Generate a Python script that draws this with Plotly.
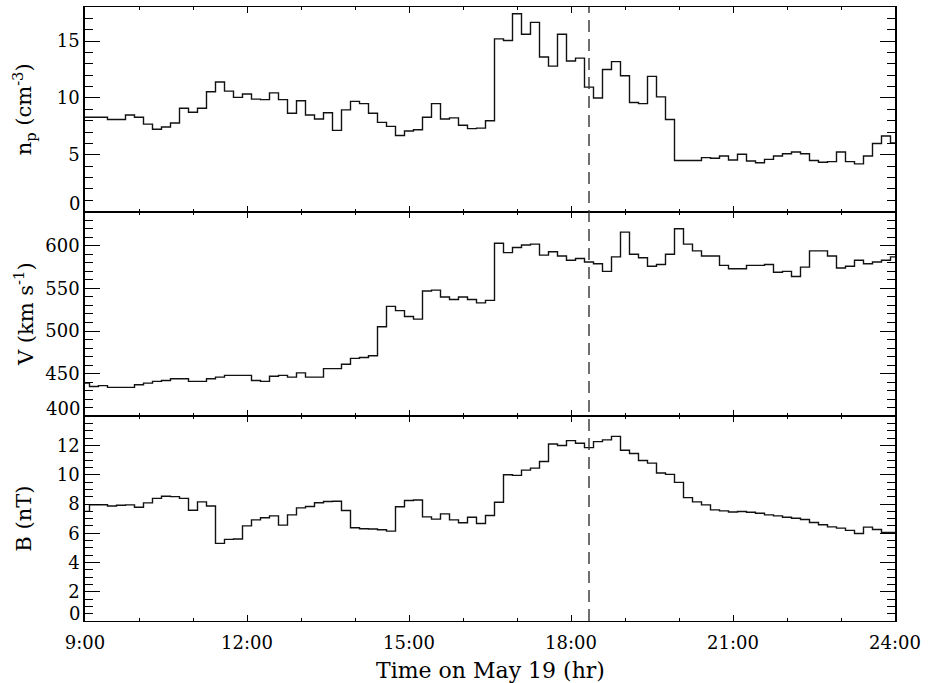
import plotly.graph_objects as go
from plotly.subplots import make_subplots

# 10-minute samples from 9:00 to 24:00 on May 19 (hours)
time_hours = [9 + i * 10 / 60 for i in range(91)]

np_density = [8.3, 8.3, 8.3, 8.1, 8.1, 8.5, 8.3, 7.7, 7.25, 7.45, 7.8, 9.1, 8.75, 9.1, 10.55,
              11.4, 10.6, 10.05, 10.35, 9.9, 9.85, 10.45, 9.85, 8.65, 9.75, 8.5, 8.15, 8.7, 7.15,
              8.95, 9.7, 9.5, 8.65, 7.85, 7.5, 6.7, 7.1, 7.2, 8.3, 9.5, 8.15, 8.25, 7.6, 7.3, 7.35,
              8.0, 15.2, 15.05, 17.4, 15.6, 16.65, 13.6, 12.8, 15.6, 13.25, 13.5, 10.95, 10.0, 12.5,
              13.2, 11.95, 9.6, 9.5, 11.9, 10.1, 8.1, 4.5, 4.5, 4.5, 4.75, 4.7, 4.9, 4.55, 5.05, 4.45,
              4.3, 4.6, 4.9, 5.1, 5.25, 5.1, 4.5, 4.35, 4.4, 5.25, 4.4, 4.2, 4.9, 6.0, 6.65, 6.05]

velocity = [439, 435, 436, 434, 434, 434, 437, 439, 441, 442, 444, 444, 441, 441, 444, 446,
            448, 448, 448, 442, 441, 447, 448, 446, 451, 446, 446, 456, 456, 461, 468, 469, 471,
            505, 529, 524, 517, 514, 547, 548, 540, 537, 540, 537, 533, 536, 603, 592, 598, 601,
            602, 589, 593, 588, 583, 585, 581, 579, 570, 587, 616, 590, 586, 576, 578, 590, 620,
            602, 594, 588, 588, 577, 573, 573, 577, 577, 578, 569, 570, 564, 575, 594, 594, 588,
            574, 576, 583, 579, 581, 583, 587]

b_field = [7.5, 7.95, 7.95, 7.87, 7.92, 7.94, 7.78, 8.08, 8.39, 8.53, 8.51, 8.39, 7.58, 8.15,
           7.87, 5.31, 5.58, 5.61, 6.51, 6.92, 7.06, 7.19, 6.56, 7.26, 7.74, 7.83, 8.09, 8.17,
           8.19, 7.56, 6.38, 6.31, 6.29, 6.24, 6.15, 7.81, 8.24, 8.28, 7.12, 6.97, 7.33, 6.92,
           6.72, 7.1, 6.67, 7.22, 8.12, 10.0, 9.96, 10.32, 10.46, 10.91, 12.11, 12.0, 12.34,
           12.16, 11.86, 12.27, 12.39, 12.63, 11.68, 11.46, 10.98, 10.8, 10.12, 10.03, 9.48,
           8.44, 8.15, 7.94, 7.6, 7.53, 7.46, 7.49, 7.44, 7.37, 7.26, 7.19, 7.1, 7.03, 6.94,
           6.74, 6.58, 6.44, 6.35, 6.2, 5.99, 6.42, 6.26, 6.06, 6.06]

x_tickvals = [9, 12, 15, 18, 21, 24]
x_ticktext = ["9:00", "12:00", "15:00", "18:00", "21:00", "24:00"]
event_time = 18 + 20 / 60

np_ticks = [0, 5, 10, 15]
v_ticks = [400, 450, 500, 550, 600]
b_ticks = [0, 2, 4, 6, 8, 10, 12]

FONT = "DejaVu Serif"

fig = make_subplots(rows=3, cols=1, shared_xaxes=True, vertical_spacing=0)
line_style = dict(shape="hvh", color="#111", width=1.4)
fig.add_trace(go.Scatter(x=time_hours, y=np_density, mode="lines", line=line_style), row=1, col=1)
fig.add_trace(go.Scatter(x=time_hours, y=velocity, mode="lines", line=line_style), row=2, col=1)
fig.add_trace(go.Scatter(x=time_hours, y=b_field, mode="lines", line=line_style), row=3, col=1)

xcommon = dict(range=[9, 24], tickvals=x_tickvals, ticktext=x_ticktext, showline=True,
               linecolor="black", linewidth=1.2, mirror="ticks", ticks="inside", ticklen=6,
               tickwidth=1.2, tickcolor="black", showgrid=False, zeroline=False,
               minor=dict(dtick=1, ticks="inside", ticklen=3, tickwidth=1.2, tickcolor="black"),
               tickfont=dict(family=FONT, size=18, color="black"), ticklabelstandoff=5)
for r in (1, 2, 3):
    fig.update_xaxes(**xcommon, row=r, col=1)
fig.update_xaxes(showticklabels=False, row=1, col=1)
fig.update_xaxes(showticklabels=False, row=2, col=1)

ycommon = dict(showline=True, linecolor="black", linewidth=1.5, mirror="ticks", ticks="inside",
               ticklen=15, tickwidth=1.2, tickcolor="black", showgrid=False, zeroline=False,
               tickfont=dict(family=FONT, size=18, color="black"))
fig.update_yaxes(**ycommon, range=[0, 18], tickvals=np_ticks,
                 ticktext=[""] + [str(v) for v in np_ticks[1:]],
                 minor=dict(dtick=1, ticks="inside", ticklen=8, tickwidth=1.2, tickcolor="black"),
                 row=1, col=1)
fig.update_yaxes(**ycommon, range=[400, 640], tickvals=v_ticks,
                 ticktext=[""] + [str(v) for v in v_ticks[1:]],
                 minor=dict(dtick=10, ticks="inside", ticklen=8, tickwidth=1.2, tickcolor="black"),
                 row=2, col=1)
fig.update_yaxes(**ycommon, range=[0, 14], tickvals=b_ticks,
                 ticktext=[""] + [str(v) for v in b_ticks[1:]],
                 minor=dict(dtick=0.5, ticks="inside", ticklen=8, tickwidth=1.2, tickcolor="black"),
                 row=3, col=1)

fig.add_shape(type="line", xref="x", yref="paper", x0=event_time, x1=event_time, y0=0, y1=1,
              line=dict(color="#333", width=1.4, dash="12px,7px"))

anns = []
# y-axis titles
for text, yc in [("n<sub>p</sub> (cm<sup>-3</sup>)", 5 / 6), ("V (km s<sup>-1</sup>)", 0.5),
                 ("B (nT)", 1 / 6)]:
    anns.append(dict(text=text, xref="paper", yref="paper", x=-0.0753, y=yc, textangle=-90,
                     showarrow=False, xanchor="center", yanchor="middle",
                     font=dict(family=FONT, size=21, color="black")))
# bottom tick labels nudged upward (as in original)
for label, yref, yval in [(str(np_ticks[0]), "y", np_ticks[0]), (str(v_ticks[0]), "y2", v_ticks[0]),
                          (str(b_ticks[0]), "y3", b_ticks[0])]:
    anns.append(dict(text=label, xref="paper", yref=yref, x=0, y=yval, xanchor="right",
                     yanchor="middle", xshift=-3, yshift=8, showarrow=False,
                     font=dict(family=FONT, size=18, color="black")))
anns.append(dict(text="Time on May 19 (hr)", xref="paper", yref="paper", x=0.5, y=-0.08,
                 xanchor="center", yanchor="middle", showarrow=False,
                 font=dict(family=FONT, size=22, color="black")))

fig.update_layout(width=929, height=683, margin=dict(l=85, r=34, t=7, b=62),
                  paper_bgcolor="white", plot_bgcolor="white", showlegend=False,
                  annotations=anns)

fig.write_html("out.html", config={"displayModeBar": False},
               post_script="document.body.style.margin='0';document.body.style.overflow='hidden';")
